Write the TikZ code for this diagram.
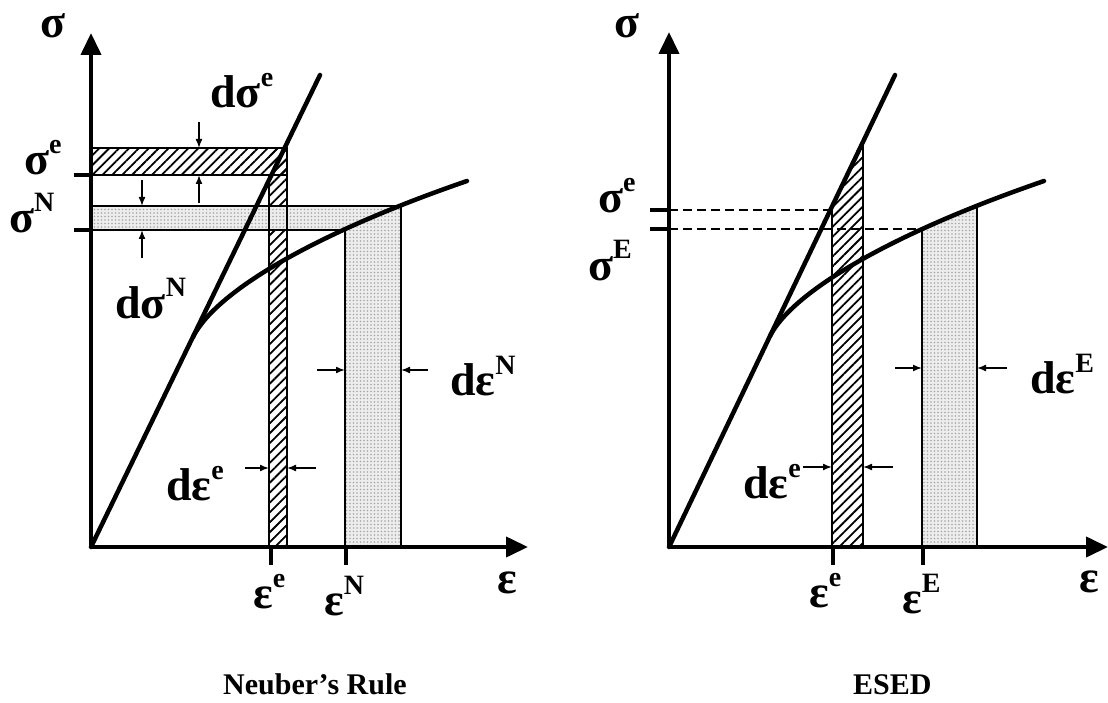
\documentclass[tikz,border=0pt]{standalone}
\usepackage{fontspec}
\setmainfont{Liberation Serif}
\usetikzlibrary{arrows.meta,patterns,patterns.meta}
\newcommand{\bigf}{\fontsize{46}{46}\selectfont\bfseries}
\newcommand{\supf}[1]{\raisebox{21pt}{\fontsize{28}{28}\selectfont\bfseries #1}}
\begin{document}
\begin{tikzpicture}[x=1pt,y=-1pt,
 axis/.style={line width=4pt, -{Triangle[length=22pt,width=20pt]}},
 curve/.style={line width=4.5pt, line cap=round},
 thinline/.style={line width=1.6pt},
 tickline/.style={line width=4.5pt},
 dashline/.style={line width=1.5pt, dash pattern=on 9pt off 5pt},
 dim/.style={line width=1.5pt, -{Latex[length=9pt,width=7pt]}},
 lab/.style={inner sep=0pt, anchor=base west, font=\bigf},
 captext/.style={inner sep=0pt, anchor=base west, font=\fontsize{30}{30}\selectfont\bfseries},
 hatch/.style={pattern={Lines[angle=45,distance=7pt,line width=1.8pt]}, pattern color=black},
 dotfill/.style={preaction={fill=gray!14}, pattern={Dots[distance=3.5pt,radius=0.8pt]}, pattern color=gray!70},
]
\useasboundingbox (0,0) rectangle (1108,703);
\fill[white] (0,0) rectangle (1108,703);

% ================= LEFT PANEL (Neuber) =================
\coordinate (O1) at (91,547);
\coordinate (K1) at (193,337);
% hatched strips
\fill[hatch] (91,148) rectangle (287,175);
\fill[hatch] (269,148) rectangle (287,547);
% dotted strips
\fill[white] (91,206) rectangle (401,230);
\fill[dotfill] (91,206) rectangle (401,230);
\fill[dotfill] (345,206) rectangle (401,547);
% outlines
\draw[thinline] (91,148) -- (287,148) -- (287,547);
\draw[thinline] (91,175) -- (287,175);
\draw[thinline] (269,175) -- (269,547);
\draw[thinline] (91,206) -- (401,206) -- (401,547);
\draw[thinline] (91,230) -- (345,230) -- (345,547);
% curves
\draw[curve] (O1) -- (320,75);
\draw[curve] (K1) .. controls (215,293) and (310,235) .. (467,181);
% axes
\draw[axis] (O1) -- (91,33);
\draw[axis] (O1) -- (528,547);
% ticks
\draw[tickline] (74,175) -- (91,175);
\draw[tickline] (74,230) -- (91,230);
\draw[tickline] (271,547) -- (271,565);
\draw[tickline] (346,547) -- (346,565);
% dimension arrows
\draw[dim] (199,122) -- (199,148);
\draw[dim] (199,203) -- (199,175);
\draw[dim] (142,180) -- (142,206);
\draw[dim] (142,258) -- (142,230);
\draw[dim] (317,370) -- (345,370);
\draw[dim] (428,370) -- (401,370);
\draw[dim] (245,468) -- (269,468);
\draw[dim] (316,468) -- (287,468);
% labels
\node[lab] (sigL) at (40,38) {σ};
\node[lab] (dseL) at (210,108) {dσ\supf{e}};
\node[lab] (seL) at (24,175) {σ\supf{e}};
\node[lab] (sNL) at (9,233) {σ\supf{N}};
\node[lab] (dsNL) at (115,318) {dσ\supf{N}};
\node[lab] (deNL) at (450,395) {dε\supf{N}};
\node[lab] (deeL) at (166,500) {dε\supf{e}};
\node[lab] (eeL) at (253,608) {ε\supf{e}};
\node[lab] (eNL) at (324,615) {ε\supf{N}};
\node[lab] (epsL) at (497,593) {ε};
\node[captext] (capL) at (223,694) {Neuber’s Rule};

% ================= RIGHT PANEL (ESED) =================
\coordinate (O2) at (669,547);
\coordinate (K2) at (770,336);
\begin{scope}
\clip (O2) -- (895,75) -- (895,547) -- cycle;
\fill[hatch] (832,0) rectangle (863,547);
\draw[thinline] (832,0) -- (832,547);
\draw[thinline] (863,0) -- (863,547);
\end{scope}
\begin{scope}
\clip (K2) .. controls (792,293) and (887,235) .. (1044,181) -- (1044,547) -- (770,547) -- cycle;
\fill[dotfill] (922,0) rectangle (977,547);
\draw[thinline] (922,0) -- (922,547);
\draw[thinline] (977,0) -- (977,547);
\end{scope}
\draw[dashline] (669,210) -- (830,210);
\draw[dashline] (669,229) -- (922,229);
\draw[curve] (O2) -- (895,75);
\draw[curve] (K2) .. controls (792,293) and (887,235) .. (1044,181);
\draw[axis] (O2) -- (669,32);
\draw[axis] (O2) -- (1108,547);
\draw[tickline] (650,210) -- (669,210);
\draw[tickline] (650,229) -- (669,229);
\draw[tickline] (833,547) -- (833,565);
\draw[tickline] (923,547) -- (923,565);
\draw[dim] (895,368) -- (922,368);
\draw[dim] (1007,368) -- (977,368);
\draw[dim] (803,467) -- (832,467);
\draw[dim] (893,467) -- (863,467);
\node[lab] (sigR) at (614,38) {σ};
\node[lab] (seR) at (598,213) {σ\supf{e}};
\node[lab] (sER) at (588,280) {σ\supf{E}};
\node[lab] (deER) at (1030,393) {dε\supf{E}};
\node[lab] (deeR) at (743,498) {dε\supf{e}};
\node[lab] (eeR) at (809,607) {ε\supf{e}};
\node[lab] (eER) at (902,613) {ε\supf{E}};
\node[lab] (epsR) at (1079,592) {ε};
\node[captext] (capR) at (853,694) {ESED};
\end{tikzpicture}
\end{document}
